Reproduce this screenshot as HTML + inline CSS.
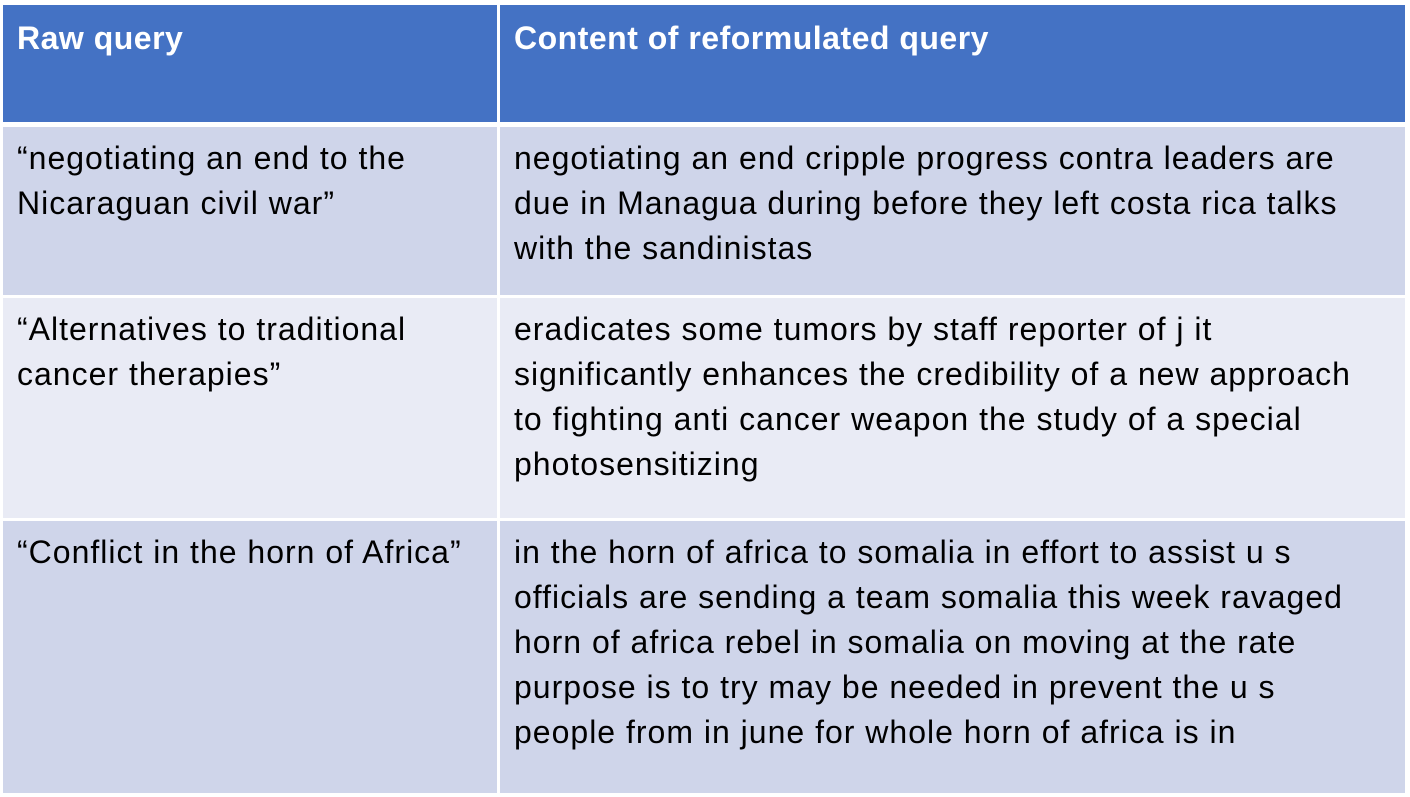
<!DOCTYPE html>
<html><head><meta charset="utf-8"><style>
html,body{margin:0;padding:0;background:#fff;width:1410px;height:797px;overflow:hidden}
.c{position:absolute;box-sizing:border-box;font-family:"Liberation Sans",sans-serif;font-size:32px;letter-spacing:1px;color:#000;line-height:45px;white-space:nowrap}
.h{background:#4472C4;color:#fff;font-weight:bold;font-size:32px;letter-spacing:0.5px;line-height:40px}
.a{background:#CFD5EA}.b{background:#E9EBF5}
.l{padding-left:14px;padding-top:9px}
</style></head><body>
<div style="position:absolute;left:0;top:0;width:1410px;height:797px">
<div class="c h l" style="left:3px;top:5px;width:494px;height:117px;padding-top:13px">Raw query</div>
<div class="c h l" style="left:500px;top:5px;width:905px;height:117px;padding-top:13px">Content of reformulated query</div>

<div class="c a l" style="left:3px;top:127px;width:494px;height:168px">“negotiating an end to the<br>Nicaraguan civil war”</div>
<div class="c a l" style="left:500px;top:127px;width:905px;height:168px">negotiating an end cripple progress contra leaders are<br>due in Managua during before they left costa rica talks<br>with the sandinistas</div>

<div class="c b l" style="left:3px;top:298px;width:494px;height:220px">“Alternatives to traditional<br>cancer therapies”</div>
<div class="c b l" style="left:500px;top:298px;width:905px;height:220px">eradicates some tumors by staff reporter of j it<br>significantly enhances the credibility of a new approach<br>to fighting anti cancer weapon the study of a special<br>photosensitizing</div>

<div class="c a l" style="left:3px;top:521px;width:494px;height:272px">“Conflict in the horn of Africa”</div>
<div class="c a l" style="left:500px;top:521px;width:905px;height:272px">in the horn of africa to somalia in effort to assist u s<br>officials are sending a team somalia this week ravaged<br>horn of africa rebel in somalia on moving at the rate<br>purpose is to try may be needed in prevent the u s<br>people from in june for whole horn of africa is in</div>
</div>
</body></html>
